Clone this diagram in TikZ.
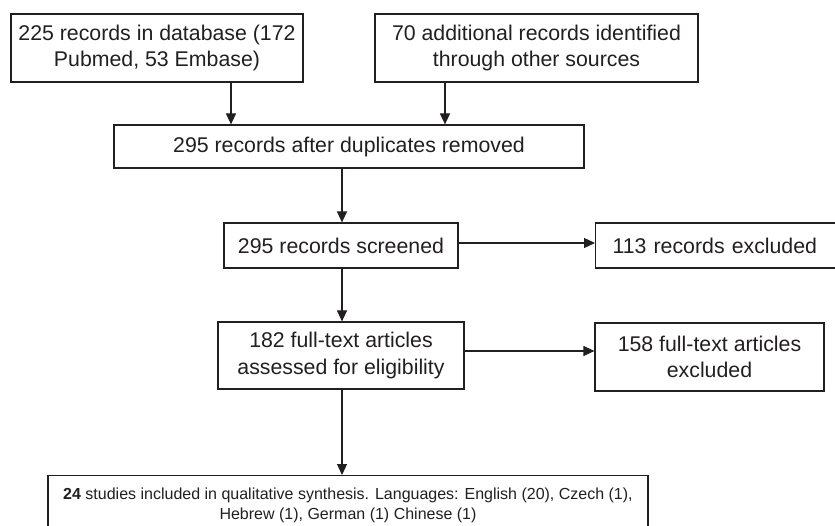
\documentclass[tikz,border=0pt]{standalone}
\usepackage{fontspec}
\setmainfont{Liberation Sans}
\usetikzlibrary{arrows.meta}
\definecolor{ink}{RGB}{35,31,32}
\begin{document}
\begin{tikzpicture}[x=1pt,y=-1pt,
  box/.style={draw=ink, line width=1.2pt, text=ink, align=center, inner sep=0pt,
    font=\fontsize{21.3}{26.5}\selectfont},
  arr/.style={draw=ink, line width=1.2pt, -{Triangle[length=11pt,width=10pt]}}]
\fill[white] (0,0) rectangle (835,526);
\useasboundingbox (0,0) rectangle (835,526);
\node[box, minimum width=292pt, minimum height=68pt] (b1) at (157,48)
  {225 records in database (172\\Pubmed, 53 Embase)};
\node[box, minimum width=323pt, minimum height=68pt] (b2) at (536.5,48)
  {70 additional records identified\\through other sources};
\node[box, minimum width=470pt, minimum height=43pt] (b3) at (349,146.5)
  {295 records after duplicates removed};
\node[box, minimum width=234pt, minimum height=45pt] (b4) at (341,245.5)
  {295 records screened};
\node[box, anchor=west, text width=211pt, inner xsep=17pt, align=left, minimum height=45pt] (b5) at (595,245.5)
  {113 records excluded};
\node[box, minimum width=246pt, minimum height=67pt] (b6) at (341,355.5)
  {182 full-text articles\\assessed for eligibility};
\node[box, minimum width=229pt, minimum height=68pt] (b7) at (709.5,357)
  {158 full-text articles\\excluded};
\node[box, anchor=north, minimum width=600pt, inner ysep=12.4pt,
  font=\fontsize{16}{20}\selectfont] (b8) at (348,475)
  {\textbf{24} studies included in qualitative synthesis. Languages: English (20), Czech (1),\\Hebrew (1), German (1) Chinese (1)};
\draw[arr] ([xshift=74pt]b1.south) -- ([xshift=74pt]b1.south |- b3.north);
\draw[arr] ([xshift=-91.5pt]b2.south) -- ([xshift=-91.5pt]b2.south |- b3.north);
\draw[arr] ([xshift=1pt]b4.north |- b3.south) -- ([xshift=1pt]b4.north);
\draw[arr] ([yshift=2.5pt]b4.east) -- ([yshift=2.5pt]b4.east -| b5.west);
\draw[arr] ([xshift=1pt]b4.south) -- ([xshift=1pt]b6.north);
\draw[arr] ([yshift=4.5pt]b6.east) -- ([yshift=4.5pt]b6.east -| b7.west);
\draw[arr] ([xshift=1pt]b6.south) -- ([xshift=1pt]b6.south |- b8.north);
\end{tikzpicture}
\end{document}
